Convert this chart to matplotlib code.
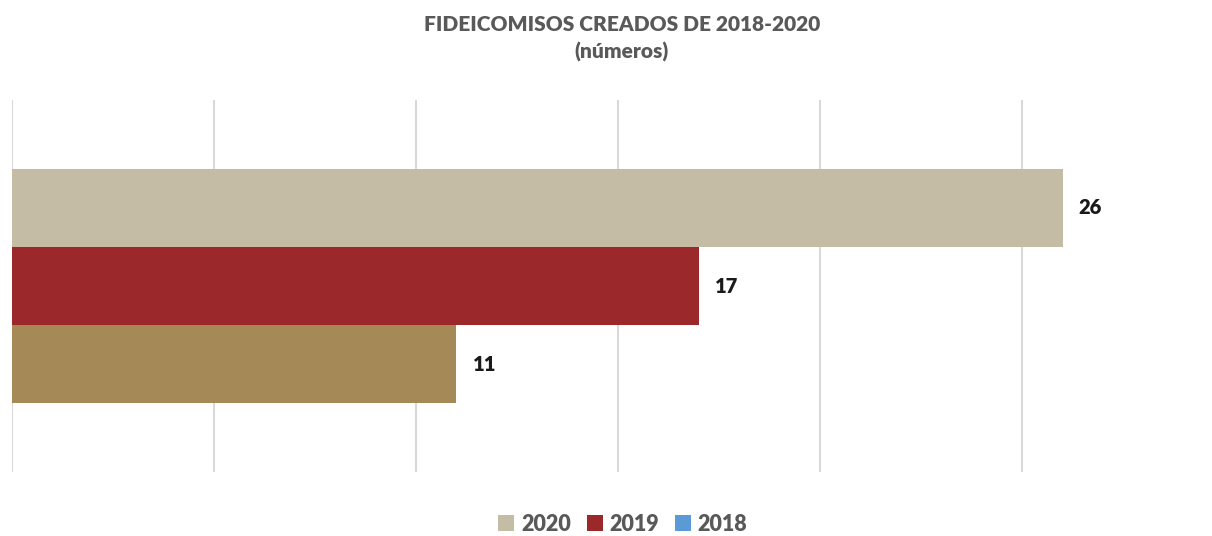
import matplotlib as mpl; mpl.use("Agg")
import matplotlib.pyplot as plt
from matplotlib.patches import Patch

plt.rcParams["font.family"] = ["Lato", "DejaVu Sans"]

YEARS = ["2020", "2019", "2018"]
VALUES = [26, 17, 11]
BAR_COLORS = ["#C4BCA4", "#9B292B", "#A58A57"]
LEGEND_COLORS = ["#C4BCA4", "#9B292B", "#5B9BD5"]
TITLE = "FIDEICOMISOS CREADOS DE 2018-2020\n(números)"

fig = plt.figure(figsize=(12.12, 5.36), dpi=100)
ax = fig.add_axes([0.0099, 0.1194, 0.9901, 0.694])

h = 0.21
offsets = [h, 0.0, -h]
for yr, v, c, off in zip(YEARS, VALUES, BAR_COLORS, offsets):
    ax.barh(off, v, height=h, color=c, zorder=2)
    ax.text(v + 0.4, off, str(v), ha="left", va="center",
            fontsize=14.5, fontweight="heavy", color="#1a1a1a")

ax.set_xlim(0, 29.7)
ax.set_ylim(-0.5, 0.5)
ax.set_xticks(range(0, 30, 5))
ax.xaxis.grid(True, color="#D9D9D9", lw=1.5, zorder=0)
ax.set_yticks([])
ax.tick_params(axis="x", length=0, labelbottom=False)
for s in ax.spines.values(): s.set_visible(False)

fig.text(0.513, 0.928, TITLE, ha="center", va="center", fontsize=15,
         fontweight="heavy", color="#595959", linespacing=1.45)

handles = [Patch(facecolor=c, label=y) for y, c in zip(YEARS, LEGEND_COLORS)]
leg = fig.legend(handles=handles, loc="center", bbox_to_anchor=(0.514, 0.022),
                 ncol=3, frameon=False, fontsize=15.5, handlelength=0.75,
                 handleheight=0.75, handletextpad=0.3, columnspacing=0.75)
for t in leg.get_texts():
    t.set_color("#595959"); t.set_fontweight("heavy")

fig.savefig("out.png", dpi=100)
